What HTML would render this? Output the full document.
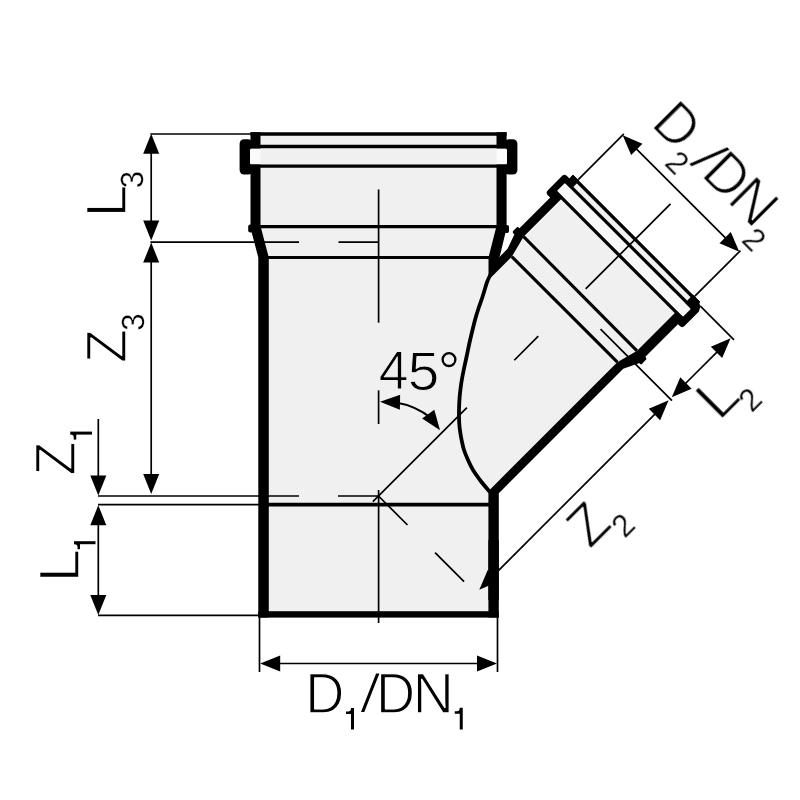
<!DOCTYPE html>
<html><head><meta charset="utf-8"><title>Y-branch</title>
<style>
html,body{margin:0;padding:0;background:#fff;}
body{width:800px;height:800px;overflow:hidden;font-family:"Liberation Sans",sans-serif;}
svg{display:block;}
</style></head>
<body>
<svg width="800" height="800" viewBox="0 0 800 800">
<rect width="800" height="800" fill="#fff"/>
<g fill="#f0f0f0" stroke="none">
<polygon points="255.00,134.00 502.00,134.00 502.00,228.00 493.00,258.00 493.00,614.00 263.00,614.00 263.00,258.00 255.00,228.00" />
</g>
<g transform="translate(378.5,496.0) rotate(45)">
<rect x="-79" y="-363" width="158" height="363" fill="#f0f0f0"/>
<rect x="-85" y="-363" width="170" height="80" fill="#f0f0f0"/>
<g fill="#000" stroke="none">
<rect x="-96.5" y="-359.5" width="12" height="27" rx="3.5"/>
<path d="M80,-364.7 L85,-364.7 Q93.5,-364 96.2,-357 L96.2,-336.5 Q96.2,-333.2 92.9,-333.2 L84,-333.2 Z"/>
<polygon points="-89.60,-364.70 -80.80,-364.70 -80.80,-286.20 -75.00,-263.60 -75.00,-233.00 -83.50,-240.00 -83.50,-266.00 -89.60,-283.00" />
<rect x="-92.2" y="-289" width="5" height="8" rx="1.8"/>
<polygon points="90.20,-364.70 80.20,-364.70 80.20,-285.60 74.30,-263.40 74.30,-80.00 83.10,-80.00 83.10,-263.00 90.20,-278.00" />
<rect x="87.8" y="-287" width="5" height="8.6" rx="1.6"/>
</g>
<rect x="-89.5" y="-353.4" width="178" height="11.6" rx="1" fill="#f8f8f8"/>
<g stroke="#000" fill="none">
<line x1="-89.60" y1="-363.00" x2="90.00" y2="-363.00" stroke-width="3.3" />
<line x1="-92.00" y1="-354.80" x2="92.00" y2="-354.80" stroke-width="3.2" />
<line x1="-90.00" y1="-340.40" x2="90.00" y2="-340.40" stroke-width="3.2" />
<line x1="-80.80" y1="-286.00" x2="80.20" y2="-285.40" stroke-width="3.1" />
<line x1="-75.00" y1="-263.50" x2="74.30" y2="-263.50" stroke-width="3.1" />
</g>
</g>
<g fill="#000" stroke="none">
<rect x="239.6" y="139.3" width="13" height="35.3" rx="4.5"/>
<rect x="504.4" y="139.3" width="13" height="35.3" rx="4.5"/>
<polygon points="250.50,132.20 260.50,132.20 260.50,226.00 268.80,257.50 268.80,617.60 258.30,617.60 258.30,257.50 250.50,228.00" />
<rect x="248.2" y="224.6" width="5" height="8" rx="2"/>
<polygon points="496.50,132.20 506.60,132.20 506.60,228.00 500.00,255.50 495.00,269.00 490.00,278.50 488.50,275.00 488.50,257.50 496.50,226.00" />
<rect x="504" y="225" width="5" height="8" rx="2"/>
<polygon points="488.40,490.50 498.80,493.30 498.80,617.60 488.40,617.60" />
<rect x="258.3" y="611.2" width="240.5" height="6.4"/>
</g>
<rect x="250" y="148.4" width="257" height="16" rx="1.5" fill="#fbfbfb"/>
<rect x="260.5" y="148.4" width="236" height="16" fill="#f0f0f0"/>
<g stroke="#000" fill="none">
<line x1="250.50" y1="134.00" x2="506.60" y2="134.00" stroke-width="3.6" />
<line x1="245.00" y1="146.50" x2="512.00" y2="146.50" stroke-width="3.4" />
<line x1="250.00" y1="166.20" x2="507.00" y2="166.20" stroke-width="3.2" />
<line x1="260.00" y1="226.60" x2="497.00" y2="226.60" stroke-width="3.2" />
<line x1="268.00" y1="257.50" x2="489.00" y2="257.50" stroke-width="3.0" />
<line x1="268.00" y1="504.60" x2="489.00" y2="504.60" stroke-width="3.6" />
</g>
<path d="M490.2,275.0 C489.6,276.2 488.1,279.2 486.9,282.5 C485.7,285.8 484.5,290.8 483.1,295.0 C481.8,299.2 480.2,303.3 478.8,307.5 C477.4,311.7 476.1,315.8 475.0,320.0 C473.9,324.2 472.9,328.3 471.9,332.5 C470.9,336.7 469.9,340.8 469.0,345.0 C468.1,349.2 467.2,353.7 466.3,358.0 C465.4,362.3 464.4,366.5 463.5,371.0 C462.6,375.5 461.6,380.6 461.0,385.0 C460.4,389.4 459.9,393.3 459.6,397.5 C459.3,401.7 459.1,405.8 459.0,410.0 C458.9,414.2 459.0,418.8 459.2,422.5 C459.4,426.2 459.8,429.1 460.2,432.0 C460.6,434.9 461.0,437.0 461.6,440.0 C462.2,443.0 462.9,446.7 464.0,450.0 C465.1,453.3 466.5,456.7 468.0,460.0 C469.5,463.3 471.0,466.7 473.0,470.0 C475.0,473.3 477.4,476.5 480.0,480.0 C482.6,483.5 487.3,489.0 488.8,490.8" fill="none" stroke="#000" stroke-width="3.8" stroke-linecap="round"/>
<g stroke="#000" fill="none">
<line x1="150.40" y1="134.00" x2="251.00" y2="134.00" stroke-width="1.7" />
<line x1="150.40" y1="242.10" x2="299.00" y2="242.10" stroke-width="1.7" />
<line x1="338.50" y1="242.10" x2="379.00" y2="242.10" stroke-width="1.7" />
<line x1="98.00" y1="496.00" x2="299.00" y2="496.00" stroke-width="1.7" />
<line x1="338.00" y1="496.00" x2="379.00" y2="496.00" stroke-width="1.7" />
<line x1="98.00" y1="504.60" x2="269.00" y2="504.60" stroke-width="1.7" />
<line x1="98.00" y1="615.30" x2="259.00" y2="615.30" stroke-width="1.7" />
<line x1="378.60" y1="189.50" x2="378.60" y2="322.70" stroke-width="1.7" />
<line x1="378.60" y1="390.30" x2="378.60" y2="424.00" stroke-width="1.7" />
<line x1="378.60" y1="490.00" x2="378.60" y2="623.00" stroke-width="1.7" />
<line x1="259.50" y1="617.00" x2="259.50" y2="672.00" stroke-width="1.7" />
<line x1="497.50" y1="617.00" x2="497.50" y2="672.00" stroke-width="1.7" />
<line x1="151.20" y1="150.00" x2="151.20" y2="225.00" stroke-width="1.7" />
<line x1="151.20" y1="258.00" x2="151.20" y2="478.00" stroke-width="1.7" />
<line x1="98.30" y1="419.00" x2="98.30" y2="478.00" stroke-width="1.7" />
<line x1="98.30" y1="520.00" x2="98.30" y2="600.00" stroke-width="1.7" />
<line x1="275.00" y1="663.50" x2="482.00" y2="663.50" stroke-width="1.7" />
</g>
<g transform="translate(378.5,496.0) rotate(45)" stroke="#000" fill="none">
<line x1="0.00" y1="8.00" x2="0.00" y2="-125.00" stroke-width="1.7" />
<line x1="0.00" y1="-192.00" x2="0.00" y2="-226.00" stroke-width="1.7" />
<line x1="0.00" y1="-293.00" x2="0.00" y2="-413.00" stroke-width="1.7" />
<line x1="0.00" y1="0.00" x2="41.00" y2="0.00" stroke-width="1.7" />
<line x1="80.00" y1="0.00" x2="121.00" y2="0.00" stroke-width="1.7" />
<line x1="-82.50" y1="-365.00" x2="-82.50" y2="-429.50" stroke-width="1.7" />
<line x1="82.40" y1="-365.00" x2="82.40" y2="-429.50" stroke-width="1.7" />
<line x1="-66.00" y1="-427.80" x2="66.00" y2="-427.80" stroke-width="1.7" />
<line x1="93.00" y1="-361.80" x2="141.00" y2="-361.80" stroke-width="1.7" />
<line x1="39.00" y1="-275.00" x2="140.00" y2="-275.00" stroke-width="1.7" />
<line x1="137.50" y1="-292.00" x2="137.50" y2="-345.00" stroke-width="1.7" />
<line x1="137.50" y1="-20.00" x2="137.50" y2="-258.00" stroke-width="1.7" />
</g>
<path d="M396,402.5 A76,76 0 0 1 431,418" fill="none" stroke="#000" stroke-width="2.1"/>
<g fill="#000" stroke="none">
<polygon points="151.20,133.80 159.20,153.80 143.20,153.80"/>
<polygon points="151.20,240.60 143.20,220.60 159.20,220.60"/>
<polygon points="151.20,242.60 159.20,262.60 143.20,262.60"/>
<polygon points="151.20,494.00 143.20,474.00 159.20,474.00"/>
<polygon points="98.30,495.40 90.30,475.40 106.30,475.40"/>
<polygon points="98.30,505.20 106.30,525.20 90.30,525.20"/>
<polygon points="98.30,615.00 90.30,595.00 106.30,595.00"/>
<polygon points="260.20,663.50 280.20,655.50 280.20,671.50"/>
<polygon points="497.00,663.50 477.00,671.50 477.00,655.50"/>
<polygon points="380.00,401.80 400.13,394.65 399.87,409.65"/>
<polygon points="440.00,430.30 422.18,418.53 434.31,409.71"/>
</g>
<g transform="translate(378.5,496.0) rotate(45)" fill="#000" stroke="none">
<polygon points="-82.50,-427.80 -62.50,-435.80 -62.50,-419.80"/>
<polygon points="82.40,-427.80 62.40,-419.80 62.40,-435.80"/>
<polygon points="137.50,-360.50 145.50,-340.50 129.50,-340.50"/>
<polygon points="137.50,-277.30 129.50,-297.30 145.50,-297.30"/>
<polygon points="137.50,-272.80 145.50,-252.80 129.50,-252.80"/>
<polygon points="137.50,-5.00 129.50,-25.00 145.50,-25.00"/>
</g>
<rect x="488.4" y="540" width="10.4" height="60" fill="#000"/>
<g font-family="Liberation Sans, sans-serif" fill="#000" stroke-linejoin="round" text-rendering="geometricPrecision" style="opacity:0.999">
<g transform="rotate(-90)">
<text transform="translate(-217.54,125.90) scale(1.0297,1)" font-size="57.27" stroke="#fff" stroke-width="1.4">L</text>
<text transform="translate(-188.34,143.45) scale(0.9718,1)" font-size="32.12" stroke="#fff" stroke-width="0.3">3</text>
<text transform="translate(-362.96,126.20) scale(0.9690,1)" font-size="57.27" stroke="#fff" stroke-width="1.4">Z</text>
<text transform="translate(-330.84,143.95) scale(0.9718,1)" font-size="32.12" stroke="#fff" stroke-width="0.3">3</text>
<text transform="translate(-475.46,74.70) scale(0.9690,1)" font-size="57.27" stroke="#fff" stroke-width="1.4">Z</text>
<path transform="translate(-439.60,91.90)" d="M0,-18.10 L2.20,-18.10 Q5.00,-18.10 5.00,-21.60 L8.0,-21.60 L8.0,0 L5.0,0 L5.0,-15.60 L0,-15.60 Z"/>
<text transform="translate(-582.45,78.60) scale(1.0535,1)" font-size="57.27" stroke="#fff" stroke-width="1.4">L</text>
<path transform="translate(-549.20,95.60)" d="M0,-18.10 L2.20,-18.10 Q5.00,-18.10 5.00,-21.60 L8.0,-21.60 L8.0,0 L5.0,0 L5.0,-15.60 L0,-15.60 Z"/>
</g>
<text transform="translate(305.35,712.70) scale(0.9464,1)" font-size="57.27" stroke="#fff" stroke-width="1.4">D</text><polygon points="361.00,712.00 364.30,712.00 379.40,673.40 376.10,673.40" /><text transform="translate(376.10,712.70) scale(0.9464,1)" font-size="57.27" stroke="#fff" stroke-width="1.4">D</text><text transform="translate(412.58,712.70) scale(1.0050,1)" font-size="57.27" stroke="#fff" stroke-width="1.4">N</text><path transform="translate(346.00,729.50)" d="M0,-18.10 L2.20,-18.10 Q5.00,-18.10 5.00,-21.60 L8.0,-21.60 L8.0,0 L5.0,0 L5.0,-15.60 L0,-15.60 Z"/><path transform="translate(454.75,729.40)" d="M0,-18.10 L2.20,-18.10 Q5.00,-18.10 5.00,-21.60 L8.0,-21.60 L8.0,0 L5.0,0 L5.0,-15.60 L0,-15.60 Z"/>
<g transform="rotate(45)">
<text transform="translate(547.65,-370.70) scale(0.9464,1)" font-size="57.27" stroke="#fff" stroke-width="1.4">D</text><polygon points="603.30,-371.40 606.60,-371.40 621.70,-410.00 618.40,-410.00" /><text transform="translate(618.40,-370.70) scale(0.9464,1)" font-size="57.27" stroke="#fff" stroke-width="1.4">D</text><text transform="translate(654.88,-370.70) scale(1.0050,1)" font-size="57.27" stroke="#fff" stroke-width="1.4">N</text><text transform="translate(585.28,-353.45) scale(0.9704,1)" font-size="32.12" stroke="#fff" stroke-width="0.3">2</text><text transform="translate(694.08,-353.45) scale(0.9704,1)" font-size="32.12" stroke="#fff" stroke-width="0.3">2</text>
</g>
<g transform="rotate(-45)">
<text transform="translate(209.89,807.20) scale(1.0455,1)" font-size="57.27" stroke="#fff" stroke-width="1.4">L</text>
<text transform="translate(239.18,824.15) scale(0.9704,1)" font-size="32.12" stroke="#fff" stroke-width="0.3">2</text>
<text transform="translate(28.34,805.70) scale(0.9690,1)" font-size="57.27" stroke="#fff" stroke-width="1.4">Z</text>
<text transform="translate(60.58,822.75) scale(0.9704,1)" font-size="32.12" stroke="#fff" stroke-width="0.3">2</text>
</g>
<text transform="translate(378.87,389.00) scale(0.9768,1)" font-size="54.65" stroke="#f0f0f0" stroke-width="1.0">4</text>
<text transform="translate(407.63,389.50) scale(1.0382,1)" font-size="54.65" stroke="#f0f0f0" stroke-width="1.0">5</text>
<circle cx="449" cy="359.6" r="6.4" fill="none" stroke="#000" stroke-width="2.3"/>
</g>
</svg>
</body></html>
